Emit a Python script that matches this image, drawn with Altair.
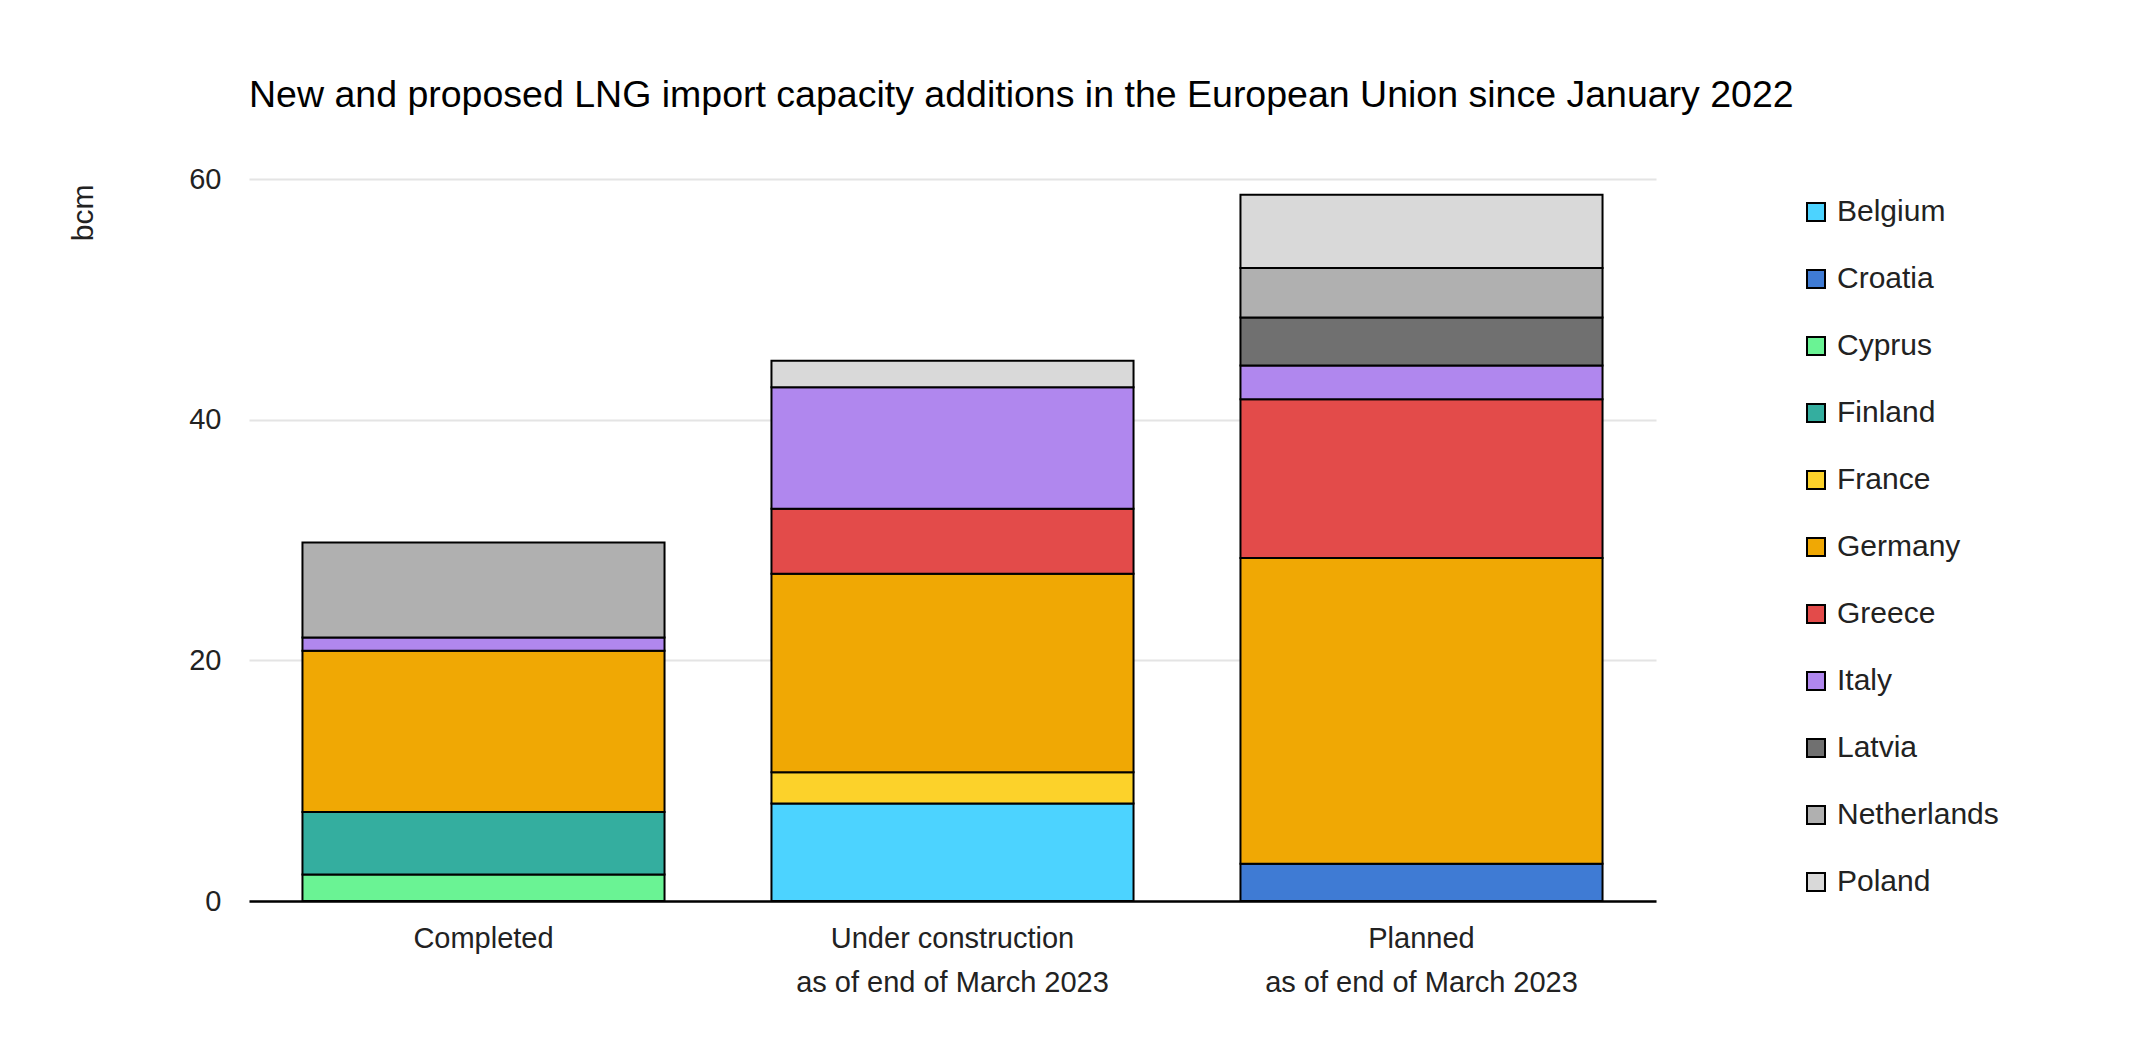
import altair as alt
import pandas as pd

categories = ["Completed",
              "Under construction|as of end of March 2023",
              "Planned|as of end of March 2023"]
countries = ["Belgium", "Croatia", "Cyprus", "Finland", "France", "Germany",
             "Greece", "Italy", "Latvia", "Netherlands", "Poland"]
completed = [0, 0, 2.2, 5.2, 0, 13.4, 0, 1.1, 0, 7.9, 0]
under_construction = [8.1, 0, 0, 0, 2.6, 16.5, 5.4, 10.1, 0, 0, 2.2]
planned = [0, 3.1, 0, 0, 0, 25.4, 13.2, 2.8, 4.0, 4.1, 6.1]
colors = ["#4cd3ff", "#3f7bd4", "#6af394", "#34ae9f", "#fcd22a", "#f0a804",
          "#e34b4a", "#b087ee", "#707070", "#b0b0b0", "#d9d9d9"]

rows = []
for cat, vals in zip(categories, [completed, under_construction, planned]):
    for i, (c, v) in enumerate(zip(countries, vals)):
        if v > 0:
            rows.append({"category": cat, "country": c, "value": v, "idx": i})
df = pd.DataFrame(rows)

FONT = "Liberation Sans"

chart = alt.Chart(df).mark_bar(stroke="black", strokeWidth=2).encode(
    x=alt.X("category:N", sort=categories,
            scale=alt.Scale(paddingInner=0.228, paddingOuter=0.114),
            axis=alt.Axis(title=None, labelAngle=0, labelFontSize=29,
                          labelColor="#222", labelFont=FONT, labelLimit=0,
                          labelExpr="split(datum.label, '|')",
                          labelLineHeight=44, labelPadding=23,
                          ticks=False, domainColor="black",
                          domainWidth=2.5)),
    y=alt.Y("value:Q", stack="zero",
            scale=alt.Scale(domain=[0, 60], nice=False),
            axis=alt.Axis(title="bcm", values=[0, 20, 40, 60],
                          labelFontSize=29, labelColor="#222", labelFont=FONT,
                          labelPadding=28, ticks=False, domain=False,
                          gridColor="#e4e4e4", gridWidth=2,
                          titleFont=FONT, titleFontSize=30,
                          titleFontWeight="normal", titleColor="#222",
                          titleAnchor="end", titlePadding=90, titleY=5)),
    color=alt.Color("country:N", sort=countries,
                    scale=alt.Scale(domain=countries, range=colors),
                    legend=alt.Legend(title=None, orient="none",
                                      legendX=1552, legendY=18,
                                      labelFont=FONT, labelFontSize=30,
                                      labelColor="#222", labelLimit=0,
                                      symbolType="square", symbolSize=324,
                                      symbolStrokeColor="black",
                                      symbolStrokeWidth=2,
                                      symbolOpacity=1,
                                      rowPadding=37, labelOffset=6,
                                      padding=0)),
    order=alt.Order("idx:Q", sort="ascending"),
).properties(
    width=1407, height=722,
    title=alt.TitleParams(
        "New and proposed LNG import capacity additions in the European Union since January 2022",
        font=FONT, fontSize=37.5, fontWeight="normal", color="black",
        anchor="start", frame="group", offset=51),
    padding={"top": 68, "left": 60, "right": 10, "bottom": 10},
    background="white",
).configure_view(stroke=None)

chart.save("out.html", embed_options={"renderer": "svg", "actions": False})
